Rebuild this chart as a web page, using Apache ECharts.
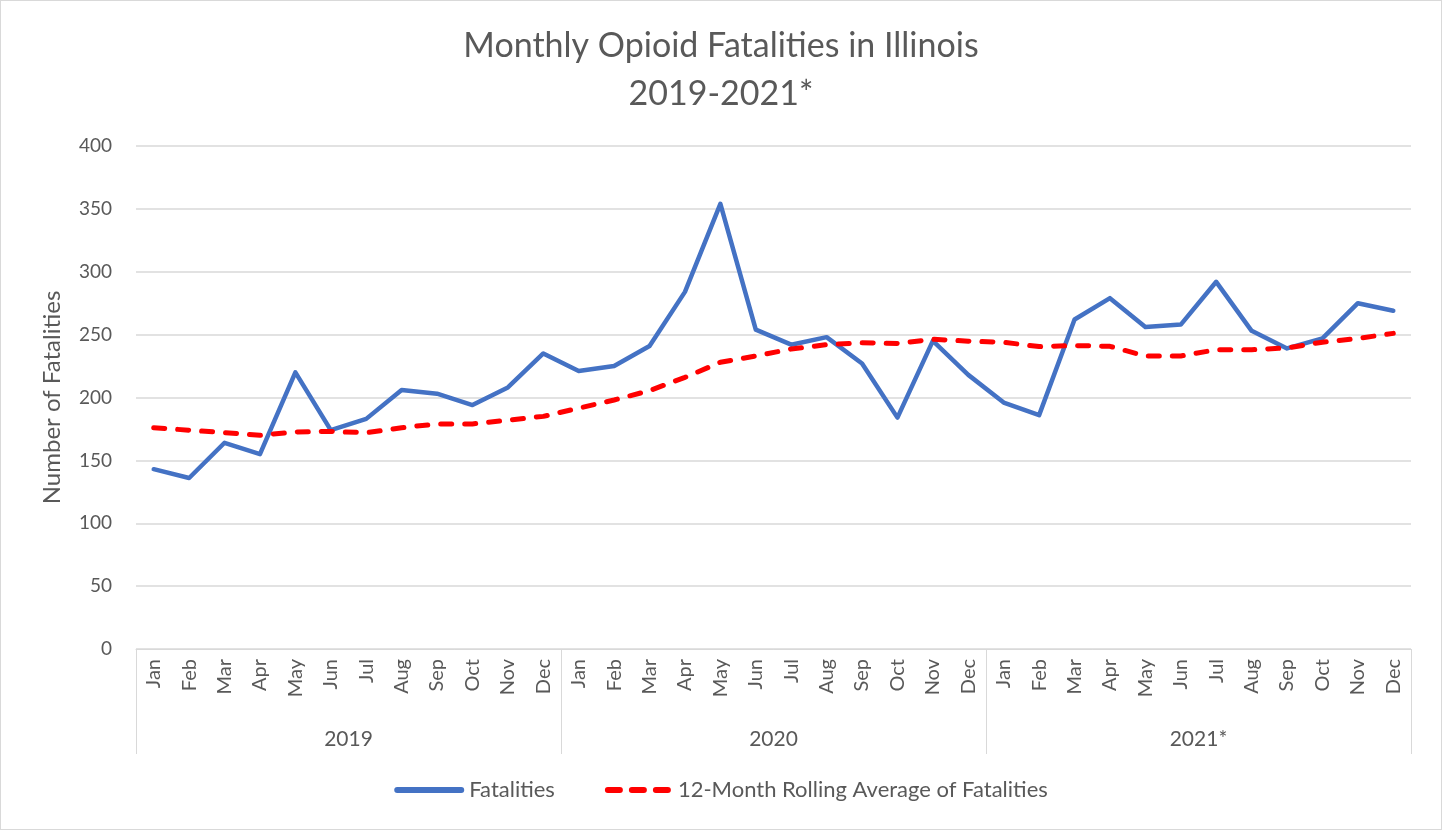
<!DOCTYPE html>
<html>
<head>
<meta charset="utf-8">
<script src="https://cdn.jsdelivr.net/npm/echarts@6/dist/echarts.min.js"></script>
<style>
html,body{margin:0;padding:0;background:#fff;}
#chart{width:1442px;height:830px;box-sizing:border-box;border:1px solid #d9d9d9;}
</style>
</head>
<body>
<div id="chart"></div>
<script>
const months = ['Jan','Feb','Mar','Apr','May','Jun','Jul','Aug','Sep','Oct','Nov','Dec',
                'Jan','Feb','Mar','Apr','May','Jun','Jul','Aug','Sep','Oct','Nov','Dec',
                'Jan','Feb','Mar','Apr','May','Jun','Jul','Aug','Sep','Oct','Nov','Dec'];
const years = ['2019','2020','2021*'];
const fatalities = [143,136,164,155,220,174,183,206,203,194,208,235,
                    221,225,241,284,354,254,242,248,227,184,245,218,
                    196,186,262,279,256,258,292,253,239,247,275,269];
const rollingAvg = [176,174,172,170,172.5,173,172,176,179,179,182,185,
                    191.5,198,205.5,216,228,233,238.6,242,243.5,243,246.3,244.8,
                    243.9,240.5,241.3,240.7,233,233,238,238,239.4,244,247,251];
const yTicks = {min:0, max:400, interval:50};

const txt = '#595959';
const fontFam = 'Lato, "Open Sans", sans-serif';

function dash(x0, len){
  const a = x0 + 3, b = x0 + len - 3;
  return 'M' + a + ',0 H' + b + ' A3,3 0 0 1 ' + b + ',6 H' + a + ' A3,3 0 0 1 ' + a + ',0 Z ';
}
const solidIcon = 'path://' + dash(0, 70);
const dashedIcon = 'path://' + dash(0, 18) + dash(24, 18) + dash(48, 18);

const chart = echarts.init(document.getElementById('chart'));
chart.setOption({
  animation:false,
  textStyle:{fontFamily:fontFam},
  title:{
    text:'Monthly Opioid Fatalities in Illinois\n2019-2021*',
    left:'center', top:16,
    textStyle:{fontSize:34, fontWeight:'normal', color:txt, lineHeight:48, fontFamily:fontFam}
  },
  legend:{
    bottom:23, left:'center',
    itemWidth:70, itemHeight:6, itemGap:50,
    textStyle:{fontSize:22, color:txt, fontFamily:fontFam},
    data:[
      {name:'Fatalities', icon:solidIcon},
      {name:'12-Month Rolling Average of Fatalities', icon:dashedIcon}
    ]
  },
  grid:{left:135, right:30, top:145, bottom:180, containLabel:false},
  xAxis:[
    {
      type:'category', data:months, boundaryGap:true,
      axisLine:{show:true, lineStyle:{color:'#d9d9d9', width:1}},
      axisTick:{show:false},
      axisLabel:{rotate:90, interval:0, fontSize:20, color:txt, margin:10, fontFamily:fontFam}
    },
    {
      type:'category', data:years, boundaryGap:true, position:'bottom', offset:0,
      axisLine:{show:false},
      axisTick:{show:true, interval:0, length:105, lineStyle:{color:'#d9d9d9', width:1}},
      axisLabel:{interval:0, fontSize:21, color:txt, margin:80, fontFamily:fontFam}
    }
  ],
  yAxis:{
    type:'value', min:yTicks.min, max:yTicks.max, interval:yTicks.interval,
    name:'Number of Fatalities', nameLocation:'middle', nameGap:72,
    nameTextStyle:{fontSize:24, color:txt, fontFamily:fontFam},
    axisLine:{show:false}, axisTick:{show:false},
    axisLabel:{fontSize:19, color:txt, margin:24, fontFamily:fontFam},
    splitLine:{lineStyle:{color:'#d9d9d9', width:1.5}}
  },
  series:[
    {
      name:'Fatalities', type:'line', xAxisIndex:0, data:fatalities,
      showSymbol:false, symbol:'none',
      lineStyle:{color:'#4472C4', width:4.5, cap:'round', join:'round'},
      itemStyle:{color:'#4472C4'}, z:2
    },
    {
      name:'12-Month Rolling Average of Fatalities', type:'line', xAxisIndex:0, data:rollingAvg,
      showSymbol:false, symbol:'none', smooth:false,
      lineStyle:{color:'#FF0000', width:5, type:[11,13], cap:'round', join:'round'},
      itemStyle:{color:'#FF0000'}, z:3
    }
  ]
});
</script>
</body>
</html>
